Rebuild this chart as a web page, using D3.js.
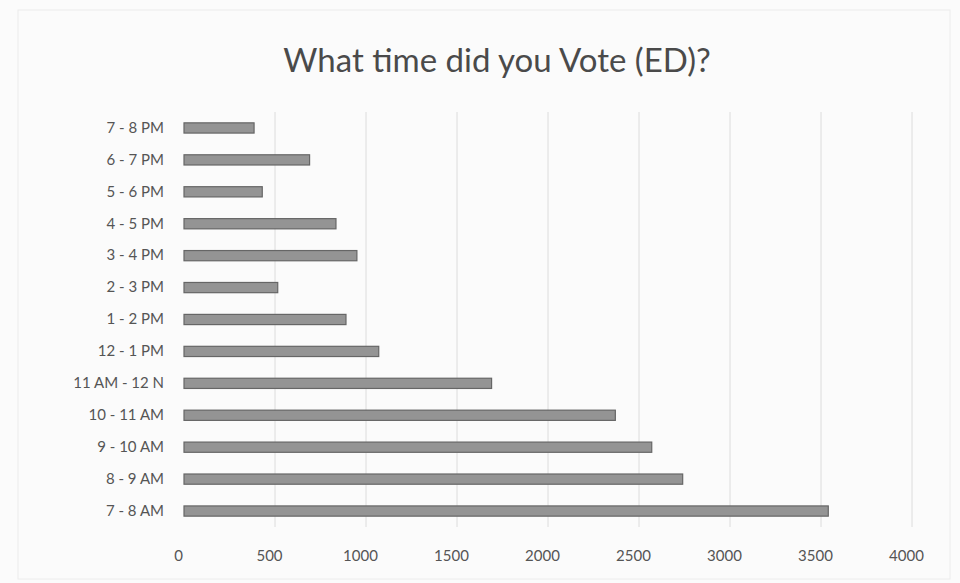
<!DOCTYPE html>
<html>
<head>
<meta charset="utf-8">
<script src="https://cdn.jsdelivr.net/npm/d3@7"></script>
<style>
  body { margin: 0; background: #fbfbfb; }
  svg { display: block; }
</style>
</head>
<body>
<div id="chart"></div>
<script>
// data, top row first as drawn
var categories = ["7 - 8 PM", "6 - 7 PM", "5 - 6 PM", "4 - 5 PM", "3 - 4 PM", "2 - 3 PM", "1 - 2 PM",
                  "12 - 1 PM", "11 AM - 12 N", "10 - 11 AM", "9 - 10 AM", "8 - 9 AM", "7 - 8 AM"];
var votes = [385, 690, 430, 835, 950, 515, 890, 1070, 1690, 2370, 2570, 2740, 3540];
var xTicks = [0, 500, 1000, 1500, 2000, 2500, 3000, 3500, 4000];
var tickLabels = ["0", "500", "1000", "1500", "2000", "2500", "3000", "3500", "4000"];

var width = 960, height = 583;
var margin = {top: 112, right: 48, bottom: 56, left: 184};

var svg = d3.select("#chart").append("svg")
    .attr("width", width)
    .attr("height", height);

// faint outer frame of the scanned chart
svg.append("rect")
    .attr("x", 18).attr("y", 10)
    .attr("width", width - 28).attr("height", height - 14)
    .attr("fill", "none")
    .attr("stroke", "#ececec");

svg.append("text")
    .attr("x", 497)
    .attr("y", 72)
    .attr("text-anchor", "middle")
    .style("font-family", "Lato, 'Open Sans', sans-serif")
    .style("font-size", "33px")
    .style("fill", "#4a4a4a")
    .text("What time did you Vote (ED)?");

var x = d3.scaleLinear()
    .domain([0, 4000])
    .range([margin.left, width - margin.right]);

var y = d3.scaleBand()
    .domain(categories)
    .range([margin.top, height - margin.bottom])
    .paddingInner(0.68)
    .paddingOuter(0.34);

// vertical gridlines
svg.append("g")
    .selectAll("line")
    .data(xTicks.slice(1))
    .enter().append("line")
    .attr("x1", function(d) { return x(d); })
    .attr("x2", function(d) { return x(d); })
    .attr("y1", margin.top)
    .attr("y2", height - margin.bottom)
    .style("stroke", "#dcdcdc")
    .style("stroke-width", 1);

svg.append("g")
    .selectAll("rect")
    .data(votes)
    .enter().append("rect")
    .attr("x", x(0))
    .attr("y", function(d, i) { return y(categories[i]); })
    .attr("width", function(d) { return x(d) - x(0); })
    .attr("height", y.bandwidth())
    .style("fill", "#949494")
    .style("stroke", "#666")
    .style("stroke-width", 1.2);

// category axis
var yAxis = svg.append("g")
    .attr("transform", "translate(" + (margin.left - 6) + ",0)")
    .call(d3.axisLeft(y).tickSize(0).tickPadding(14));
yAxis.select(".domain").remove();
yAxis.selectAll("text")
    .style("font-family", "Lato, 'Open Sans', sans-serif")
    .style("font-size", "15px")
    .style("fill", "#555");

// value axis
var xAxis = svg.append("g")
    .attr("transform", "translate(-6," + (height - margin.bottom) + ")")
    .call(d3.axisBottom(x).tickValues(xTicks)
        .tickFormat(function(d, i) { return tickLabels[i]; })
        .tickSize(0).tickPadding(23));
xAxis.select(".domain").remove();
xAxis.selectAll("text")
    .style("font-family", "Lato, 'Open Sans', sans-serif")
    .style("font-size", "15px")
    .style("fill", "#555");
</script>
</body>
</html>
